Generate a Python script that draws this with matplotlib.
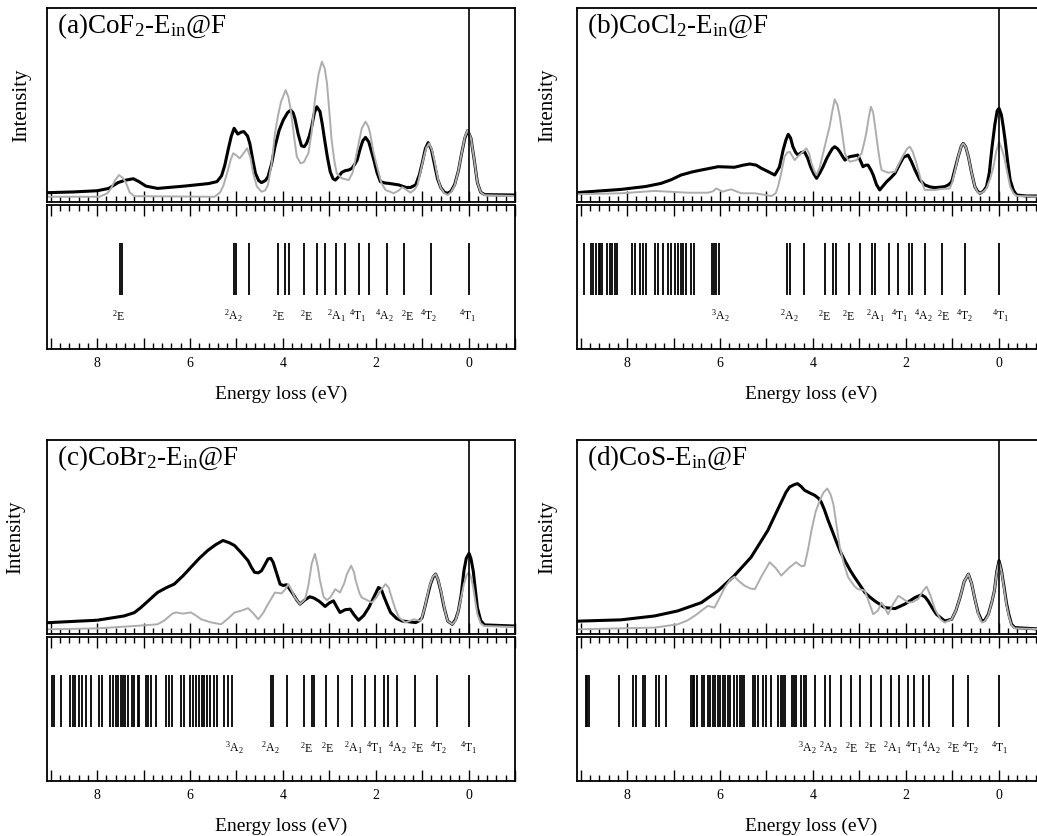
import matplotlib.pyplot as plt
from matplotlib.ticker import MultipleLocator, FuncFormatter

plt.rcParams['font.family'] = 'Liberation Serif'
plt.rcParams['mathtext.fontset'] = 'custom'
plt.rcParams['mathtext.rm'] = 'Liberation Serif'
plt.rcParams['mathtext.it'] = 'Liberation Serif:italic'
plt.rcParams['mathtext.bf'] = 'Liberation Serif:bold'

W, H = 1037, 836
XLIM = (9.08, -1.0)
EXP_COLOR = 'black'
CALC_COLOR = '#adadad'

# ---- (a) CoF2 ----
a_exp_e = [9.08, 8.5, 8.0, 7.75, 7.55, 7.4, 7.22, 7.1, 6.95, 6.7, 6.12, 5.6, 5.42, 5.32, 5.25, 5.18, 5.11, 5.05,
           4.97, 4.90, 4.84, 4.76, 4.71, 4.65, 4.59, 4.52, 4.46, 4.38, 4.32, 4.24, 4.17, 4.08, 3.99, 3.90, 3.83,
           3.78, 3.74, 3.67, 3.60, 3.54, 3.49, 3.43, 3.38, 3.32, 3.27, 3.20, 3.15, 3.10, 3.04, 2.98, 2.92, 2.87,
           2.80, 2.73, 2.65, 2.58, 2.51, 2.45, 2.40, 2.34, 2.28, 2.22, 2.15, 2.09, 2.04, 1.97, 1.90, 1.80, 1.72,
           1.50, 1.35, 1.25, 1.14, 1.06, 1.00, 0.93, 0.87, 0.80, 0.74, 0.67, 0.60, 0.52, 0.45, 0.38, 0.30, 0.22,
           0.15, 0.08, 0.02, -0.05, -0.12, -0.19, -0.26, -0.35, -1.0]
a_exp_i = [0.048, 0.052, 0.058, 0.07, 0.10, 0.112, 0.12, 0.105, 0.082, 0.07, 0.082, 0.095, 0.105, 0.135, 0.19,
           0.268, 0.34, 0.38, 0.35, 0.36, 0.363, 0.34, 0.30, 0.22, 0.148, 0.11, 0.10, 0.11, 0.13, 0.2, 0.285,
           0.37, 0.423, 0.46, 0.474, 0.46, 0.43, 0.35, 0.29, 0.285, 0.302, 0.34, 0.388, 0.46, 0.491, 0.466, 0.40,
           0.32, 0.23, 0.156, 0.12, 0.113, 0.13, 0.153, 0.162, 0.165, 0.174, 0.195, 0.216, 0.27, 0.315, 0.333,
           0.31, 0.26, 0.216, 0.15, 0.105, 0.098, 0.096, 0.088, 0.075, 0.075, 0.088, 0.14, 0.2, 0.275, 0.306,
           0.27, 0.2, 0.12, 0.075, 0.05, 0.045, 0.055, 0.09, 0.16, 0.25, 0.33, 0.368, 0.33, 0.22, 0.10, 0.05,
           0.038, 0.036]
a_calc_e = [9.08, 7.95, 7.78, 7.70, 7.62, 7.53, 7.45, 7.38, 7.30, 7.2, 5.47, 5.35, 5.28, 5.20, 5.12, 5.07, 5.0,
            4.93, 4.85, 4.77, 4.70, 4.64, 4.56, 4.46, 4.38, 4.32, 4.24, 4.17, 4.10, 4.04, 3.94, 3.88, 3.83, 3.76,
            3.70, 3.62, 3.55, 3.45, 3.38, 3.31, 3.23, 3.16, 3.10, 3.05, 3.0, 2.95, 2.89, 2.84, 2.73, 2.58, 2.50,
            2.44, 2.37, 2.30, 2.22, 2.16, 2.12, 2.05, 1.97, 1.88, 1.79, 1.61, 1.50, 1.43, 1.35, 1.25, 1.16, 1.10,
            1.04, 0.98, 0.91, 0.85, 0.79, 0.73, 0.66, 0.60, 0.52, 0.45, 0.38, 0.30, 0.22, 0.15, 0.08, 0.02,
            -0.05, -0.12, -0.19, -0.26, -0.35, -1.0]
a_calc_i = [0.027, 0.027, 0.045, 0.07, 0.11, 0.139, 0.125, 0.10, 0.05, 0.03, 0.027, 0.05, 0.085, 0.15, 0.22,
            0.251, 0.24, 0.225, 0.25, 0.277, 0.23, 0.148, 0.08, 0.053, 0.06, 0.088, 0.20, 0.354, 0.45, 0.517,
            0.577, 0.54, 0.474, 0.34, 0.234, 0.20, 0.205, 0.251, 0.36, 0.526, 0.66, 0.723, 0.69, 0.612, 0.47,
            0.32, 0.21, 0.148, 0.122, 0.113, 0.15, 0.216, 0.30, 0.38, 0.414, 0.39, 0.354, 0.26, 0.182, 0.10,
            0.062, 0.045, 0.06, 0.076, 0.065, 0.048, 0.065, 0.088, 0.15, 0.216, 0.28, 0.302, 0.27, 0.208, 0.12,
            0.074, 0.045, 0.036, 0.05, 0.085, 0.16, 0.25, 0.335, 0.371, 0.33, 0.22, 0.10, 0.05, 0.035, 0.031]
a_sticks = [7.50, 7.47, 5.06, 5.02, 4.74, 4.10, 3.95, 3.87, 3.54, 3.27, 3.10, 2.85, 2.66, 2.37, 2.14, 1.75,
            1.39, 0.82, 0.0]
a_lab_e = [7.54, 5.07, 4.10, 3.49, 2.84, 2.38, 1.82, 1.32, 0.86, 0.02]
a_lab = [r'$^2$E', r'$^2$A$_2$', r'$^2$E', r'$^2$E', r'$^2$A$_1$', r'$^4$T$_1$', r'$^4$A$_2$', r'$^2$E',
         r'$^4$T$_2$', r'$^4$T$_1$']

# ---- (b) CoCl2 ----
b_exp_e = [9.08, 8.99, 8.13, 7.6, 7.27, 7.05, 6.84, 6.60, 6.40, 6.04, 5.69, 5.50, 5.36, 5.22, 5.11, 4.95, 4.82,
           4.72, 4.64, 4.58, 4.53, 4.48, 4.43, 4.37, 4.32, 4.25, 4.18, 4.11, 4.05, 3.98, 3.92, 3.85, 3.78, 3.70,
           3.64, 3.58, 3.53, 3.47, 3.42, 3.36, 3.31, 3.25, 3.20, 3.10, 3.03, 2.97, 2.92, 2.86, 2.81, 2.75, 2.70,
           2.63, 2.56, 2.48, 2.41, 2.32, 2.23, 2.14, 2.05, 1.95, 1.88, 1.80, 1.70, 1.59, 1.48, 1.37, 1.16, 1.07,
           1.01, 0.95, 0.87, 0.80, 0.76, 0.71, 0.65, 0.58, 0.51, 0.45, 0.40, 0.33, 0.26, 0.20, 0.14, 0.08, 0.03,
           -0.01, -0.06, -0.10, -0.14, -0.20, -0.25, -0.32, -0.39, -0.6, -1.0]
b_exp_i = [0.048, 0.05, 0.065, 0.08, 0.096, 0.115, 0.139, 0.155, 0.165, 0.182, 0.179, 0.19, 0.196, 0.19, 0.174,
           0.155, 0.139, 0.18, 0.268, 0.32, 0.349, 0.33, 0.285, 0.255, 0.242, 0.255, 0.259, 0.225, 0.182, 0.145,
           0.122, 0.15, 0.182, 0.225, 0.251, 0.275, 0.285, 0.275, 0.259, 0.235, 0.216, 0.228, 0.234, 0.238,
           0.242, 0.21, 0.182, 0.19, 0.19, 0.165, 0.139, 0.09, 0.062, 0.085, 0.105, 0.125, 0.148, 0.19, 0.23,
           0.242, 0.21, 0.165, 0.115, 0.088, 0.078, 0.074, 0.079, 0.09, 0.105, 0.16, 0.234, 0.29, 0.302, 0.285,
           0.234, 0.15, 0.079, 0.055, 0.045, 0.055, 0.079, 0.15, 0.285, 0.40, 0.47, 0.483, 0.45, 0.39, 0.32,
           0.20, 0.113, 0.06, 0.036, 0.031, 0.031]
b_calc_e = [9.08, 8.13, 7.41, 6.69, 6.26, 6.15, 6.08, 6.0, 5.94, 5.85, 5.76, 5.65, 5.54, 5.25, 4.89, 4.80, 4.75,
            4.68, 4.61, 4.55, 4.50, 4.45, 4.39, 4.32, 4.25, 4.14, 4.08, 4.03, 3.97, 3.92, 3.85, 3.78, 3.70, 3.64,
            3.58, 3.53, 3.47, 3.42, 3.36, 3.31, 3.25, 3.20, 3.06, 2.95, 2.90, 2.85, 2.80, 2.75, 2.70, 2.65, 2.60,
            2.55, 2.52, 2.38, 2.23, 2.14, 2.05, 1.97, 1.91, 1.85, 1.77, 1.68, 1.59, 1.37, 1.23, 1.05, 1.00, 0.94,
            0.87, 0.80, 0.76, 0.71, 0.65, 0.58, 0.51, 0.45, 0.40, 0.33, 0.26, 0.18, 0.11, 0.05, -0.01, -0.06,
            -0.12, -0.18, -0.25, -0.32, -0.39, -1.0]
b_calc_i = [0.04, 0.045, 0.057, 0.048, 0.048, 0.055, 0.07, 0.06, 0.053, 0.06, 0.065, 0.055, 0.045, 0.045, 0.031,
            0.045, 0.079, 0.15, 0.234, 0.255, 0.259, 0.24, 0.216, 0.235, 0.251, 0.277, 0.25, 0.20, 0.16, 0.139,
            0.18, 0.251, 0.33, 0.388, 0.47, 0.529, 0.50, 0.44, 0.34, 0.251, 0.22, 0.208, 0.216, 0.251, 0.30,
            0.354, 0.43, 0.491, 0.46, 0.371, 0.28, 0.2, 0.165, 0.151, 0.156, 0.2, 0.242, 0.275, 0.285, 0.26, 0.20,
            0.12, 0.062, 0.062, 0.067, 0.07, 0.10, 0.16, 0.234, 0.29, 0.302, 0.285, 0.234, 0.15, 0.079, 0.05,
            0.045, 0.052, 0.07, 0.12, 0.182, 0.26, 0.31, 0.28, 0.234, 0.16, 0.079, 0.045, 0.031, 0.027]
b_sticks = [8.94, 8.78, 8.73, 8.67, 8.61, 8.58, 8.54, 8.44, 8.38, 8.32, 8.27, 8.22, 7.89, 7.84, 7.73, 7.66,
            7.59, 7.39, 7.34, 7.22, 7.12, 7.05, 6.98, 6.91, 6.84, 6.79, 6.73, 6.62, 6.57, 6.17, 6.12, 6.08,
            6.02, 4.55, 4.50, 4.19, 3.74, 3.56, 3.51, 3.22, 2.98, 2.72, 2.66, 2.37, 2.16, 1.93, 1.87, 1.58,
            1.22, 0.72, 0.0]
b_lab_e = [6.0, 4.5, 3.74, 3.24, 2.65, 2.12, 1.62, 1.19, 0.72, -0.04]
b_lab = [r'$^3$A$_2$', r'$^2$A$_2$', r'$^2$E', r'$^2$E', r'$^2$A$_1$', r'$^4$T$_1$', r'$^4$A$_2$', r'$^2$E',
         r'$^4$T$_2$', r'$^4$T$_1$']

# ---- (c) CoBr2 ----
c_exp_e = [9.08, 9.01, 8.0, 7.42, 7.2, 7.06, 6.88, 6.70, 6.50, 6.34, 6.15, 5.98, 5.80, 5.62, 5.45, 5.29, 5.15,
           5.04, 4.90, 4.75, 4.68, 4.61, 4.53, 4.46, 4.38, 4.32, 4.26, 4.21, 4.13, 4.06, 3.99, 3.92, 3.85, 3.78,
           3.70, 3.63, 3.53, 3.42, 3.33, 3.23, 3.15, 3.09, 3.0, 2.91, 2.84, 2.77, 2.66, 2.55, 2.47, 2.37, 2.26,
           2.15, 2.04, 1.94, 1.88, 1.83, 1.75, 1.68, 1.55, 1.43, 1.14, 1.05, 1.00, 0.93, 0.86, 0.82, 0.76, 0.71,
           0.66, 0.60, 0.53, 0.45, 0.35, 0.28, 0.22, 0.16, 0.10, 0.05, -0.01, -0.05, -0.10, -0.15, -0.19, -0.26,
           -0.34, -1.0]
c_exp_i = [0.058, 0.059, 0.071, 0.093, 0.11, 0.136, 0.175, 0.214, 0.24, 0.257, 0.30, 0.344, 0.39, 0.43, 0.46,
           0.482, 0.47, 0.456, 0.42, 0.378, 0.345, 0.318, 0.315, 0.326, 0.36, 0.387, 0.39, 0.37, 0.31, 0.257,
           0.25, 0.254, 0.23, 0.206, 0.175, 0.154, 0.175, 0.192, 0.185, 0.171, 0.155, 0.142, 0.16, 0.171, 0.14,
           0.111, 0.125, 0.128, 0.1, 0.071, 0.095, 0.136, 0.19, 0.24, 0.23, 0.197, 0.15, 0.111, 0.08, 0.067,
           0.059, 0.07, 0.085, 0.15, 0.22, 0.257, 0.295, 0.309, 0.28, 0.223, 0.14, 0.067, 0.05, 0.075, 0.119,
           0.2, 0.326, 0.39, 0.416, 0.39, 0.326, 0.22, 0.136, 0.07, 0.047, 0.041]
c_calc_e = [9.08, 8.0, 7.21, 6.70, 6.55, 6.48, 6.38, 6.30, 6.16, 5.98, 5.87, 5.76, 5.55, 5.33, 5.18, 5.04, 4.90,
            4.75, 4.65, 4.53, 4.42, 4.32, 4.17, 4.03, 3.95, 3.88, 3.80, 3.74, 3.63, 3.52, 3.45, 3.38, 3.31, 3.25,
            3.20, 3.12, 3.05, 2.98, 2.87, 2.77, 2.68, 2.62, 2.53, 2.47, 2.43, 2.35, 2.30, 2.08, 1.98, 1.90, 1.79,
            1.72, 1.68, 1.58, 1.50, 1.36, 1.18, 1.03, 0.95, 0.85, 0.77, 0.71, 0.65, 0.58, 0.50, 0.45, 0.35, 0.28,
            0.22, 0.15, 0.10, 0.04, -0.01, -0.05, -0.10, -0.15, -0.19, -0.26, -0.34, -1.0]
c_calc_i = [0.024, 0.029, 0.041, 0.05, 0.07, 0.085, 0.105, 0.111, 0.105, 0.111, 0.095, 0.076, 0.06, 0.05, 0.08,
            0.111, 0.12, 0.133, 0.11, 0.076, 0.11, 0.154, 0.214, 0.209, 0.23, 0.257, 0.22, 0.188, 0.154, 0.18,
            0.25, 0.361, 0.413, 0.35, 0.275, 0.19, 0.175, 0.188, 0.231, 0.214, 0.26, 0.309, 0.352, 0.32, 0.275,
            0.21, 0.188, 0.162, 0.19, 0.223, 0.257, 0.24, 0.206, 0.13, 0.085, 0.059, 0.076, 0.067, 0.13, 0.24,
            0.295, 0.309, 0.275, 0.206, 0.11, 0.067, 0.05, 0.07, 0.119, 0.2, 0.257, 0.305, 0.318, 0.295, 0.24,
            0.16, 0.102, 0.055, 0.041, 0.036]
c_sticks = [8.97, 8.94, 8.77, 8.58, 8.52, 8.47, 8.40, 8.32, 8.23, 8.14, 7.95, 7.89, 7.73, 7.65, 7.60, 7.55,
            7.49, 7.44, 7.39, 7.33, 7.26, 7.21, 7.13, 7.10, 6.95, 6.90, 6.83, 6.74, 6.52, 6.46, 6.38, 6.19,
            6.14, 5.99, 5.94, 5.87, 5.81, 5.75, 5.69, 5.63, 5.56, 5.49, 5.42, 5.26, 5.18, 5.09, 4.26, 4.21,
            3.91, 3.54, 3.37, 3.34, 3.07, 2.82, 2.51, 2.24, 2.01, 1.83, 1.74, 1.54, 1.16, 0.67, 0.0]
c_lab_e = [5.04, 4.28, 3.49, 3.03, 2.48, 2.01, 1.54, 1.10, 0.64, -0.01]
c_lab = b_lab

# ---- (d) CoS ----
d_exp_e = [9.08, 8.96, 8.13, 7.41, 6.91, 6.40, 6.04, 5.69, 5.33, 4.97, 4.80, 4.68, 4.58, 4.50, 4.40, 4.33, 4.25,
           4.18, 4.05, 3.96, 3.88, 3.82, 3.75, 3.67, 3.58, 3.49, 3.40, 3.31, 3.20, 3.10, 2.98, 2.88, 2.77, 2.67,
           2.45, 2.23, 2.02, 1.80, 1.66, 1.58, 1.52, 1.43, 1.34, 1.16, 1.01, 0.92, 0.83, 0.74, 0.65, 0.58, 0.51,
           0.44, 0.36, 0.30, 0.22, 0.14, 0.09, 0.04, -0.01, -0.06, -0.12, -0.17, -0.22, -0.28, -0.35, -1.0]
d_exp_i = [0.066, 0.067, 0.073, 0.093, 0.119, 0.162, 0.223, 0.301, 0.396, 0.534, 0.62, 0.68, 0.73, 0.758, 0.77,
           0.775, 0.76, 0.741, 0.725, 0.715, 0.70, 0.68, 0.64, 0.585, 0.53, 0.473, 0.42, 0.378, 0.33, 0.292,
           0.25, 0.214, 0.19, 0.171, 0.136, 0.131, 0.154, 0.188, 0.202, 0.19, 0.171, 0.135, 0.102, 0.067, 0.076,
           0.12, 0.188, 0.27, 0.309, 0.26, 0.18, 0.11, 0.067, 0.07, 0.102, 0.17, 0.223, 0.32, 0.378, 0.33, 0.24,
           0.16, 0.102, 0.05, 0.033, 0.024]
d_calc_e = [9.08, 7.41, 6.91, 6.70, 6.55, 6.40, 6.26, 6.12, 6.0, 5.90, 5.78, 5.69, 5.58, 5.47, 5.35, 5.25, 5.10,
            4.93, 4.80, 4.68, 4.52, 4.36, 4.25, 4.18, 4.10, 4.03, 3.94, 3.85, 3.77, 3.69, 3.62, 3.56, 3.49, 3.42,
            3.33, 3.24, 3.10, 3.03, 2.95, 2.88, 2.80, 2.70, 2.60, 2.52, 2.45, 2.38, 2.28, 2.16, 2.05, 1.95, 1.85,
            1.73, 1.62, 1.55, 1.47, 1.37, 1.25, 1.16, 1.01, 0.92, 0.83, 0.74, 0.65, 0.58, 0.51, 0.44, 0.36, 0.30,
            0.22, 0.14, 0.09, 0.04, -0.01, -0.06, -0.12, -0.17, -0.22, -0.28, -0.35, -1.0]
d_calc_i = [0.024, 0.033, 0.05, 0.07, 0.093, 0.12, 0.145, 0.136, 0.19, 0.24, 0.28, 0.295, 0.27, 0.249, 0.235,
            0.231, 0.30, 0.37, 0.34, 0.301, 0.34, 0.37, 0.35, 0.352, 0.44, 0.534, 0.63, 0.689, 0.73, 0.75, 0.72,
            0.672, 0.56, 0.447, 0.36, 0.292, 0.245, 0.231, 0.228, 0.223, 0.17, 0.102, 0.12, 0.162, 0.135, 0.102,
            0.15, 0.197, 0.18, 0.162, 0.165, 0.18, 0.225, 0.244, 0.2, 0.128, 0.075, 0.059, 0.076, 0.12, 0.188,
            0.27, 0.309, 0.26, 0.18, 0.105, 0.059, 0.065, 0.098, 0.17, 0.223, 0.315, 0.37, 0.325, 0.231, 0.15,
            0.093, 0.045, 0.029, 0.024]
d_sticks = [8.89, 8.86, 8.83, 8.18, 7.88, 7.82, 7.66, 7.61, 7.37, 7.32, 7.16, 6.62, 6.58, 6.55, 6.49, 6.39,
            6.35, 6.25, 6.21, 6.16, 6.11, 6.04, 5.99, 5.94, 5.89, 5.83, 5.78, 5.69, 5.63, 5.58, 5.53, 5.48,
            5.30, 5.25, 5.19, 5.08, 5.02, 4.90, 4.75, 4.69, 4.64, 4.59, 4.46, 4.41, 4.36, 4.25, 4.20, 4.14,
            3.96, 3.74, 3.64, 3.40, 3.17, 2.99, 2.75, 2.54, 2.32, 2.15, 1.96, 1.82, 1.62, 1.50, 0.98, 0.65, 0.0]
d_lab_e = [4.12, 3.66, 3.17, 2.75, 2.29, 1.82, 1.44, 0.97, 0.60, -0.03]
d_lab = b_lab

titles = [r'(a)CoF$_2$-E$_{\mathrm{in}}$@F', r'(b)CoCl$_2$-E$_{\mathrm{in}}$@F',
          r'(c)CoBr$_2$-E$_{\mathrm{in}}$@F', r'(d)CoS-E$_{\mathrm{in}}$@F']


def box(left, top, right, bottom):
    # pixel edges -> figure fraction [x, y, w, h]
    return [left / W, 1 - bottom / H, (right - left) / W, (bottom - top) / H]


def style_x(ax):
    ax.set_xlim(*XLIM)
    ax.xaxis.set_major_locator(MultipleLocator(1))
    ax.xaxis.set_minor_locator(MultipleLocator(0.2))
    ax.set_yticks([])
    ax.set_ylim(0, 1)
    for s in ax.spines.values():
        s.set_linewidth(1.3)


def panel(left, top, title, exp_e, exp_i, calc_e, calc_i, sticks, lab_e, lab, ylab_x):
    right = left + 468
    ax = plt.gcf().add_axes(box(left, top, right, top + 194))
    style_x(ax)
    ax.tick_params(axis='x', which='both', direction='in', bottom=True, top=False, labelbottom=False, width=1)
    ax.tick_params(axis='x', which='major', length=8)
    ax.tick_params(axis='x', which='minor', length=4)
    ax.plot(exp_e, exp_i, color=EXP_COLOR, lw=2.2, solid_joinstyle='round')
    ax.plot(calc_e, calc_i, color=CALC_COLOR, lw=1.4)
    ax.axvline(0, color='black', lw=1.2)
    ax.text(0.022, 0.905, title, transform=ax.transAxes, fontsize=19.5, ha='left', va='center')
    ax.set_ylabel('Intensity', fontsize=15)
    ax.yaxis.set_label_coords(ylab_x, 0.5)

    sx = plt.gcf().add_axes(box(left, top + 197, right, top + 341))
    style_x(sx)
    sx.tick_params(axis='x', which='both', direction='in', bottom=True, top=True, width=1, labelsize=10, pad=6)
    sx.tick_params(axis='x', which='major', length=8)
    sx.tick_params(axis='x', which='minor', length=4)
    sx.xaxis.set_major_formatter(FuncFormatter(
        lambda v, _: f'{v:.0f}' if round(v) % 2 == 0 and 0 <= v <= 8 else ''))
    sx.vlines(sticks, 0.375, 0.735, color='black', lw=1.3)
    for e, t in zip(lab_e, lab):
        sx.text(e, 0.23, t, fontsize=8.5, ha='center', va='center')
    sx.set_xlabel('Energy loss (eV)', fontsize=14, labelpad=11)


fig = plt.figure(figsize=(W / 100, H / 100), dpi=100)
panel(47, 8, titles[0], a_exp_e, a_exp_i, a_calc_e, a_calc_i, a_sticks, a_lab_e, a_lab, -0.033)
panel(577, 8, titles[1], b_exp_e, b_exp_i, b_calc_e, b_calc_i, b_sticks, b_lab_e, b_lab, -0.043)
panel(47, 440, titles[2], c_exp_e, c_exp_i, c_calc_e, c_calc_i, c_sticks, c_lab_e, c_lab, -0.047)
panel(577, 440, titles[3], d_exp_e, d_exp_i, d_calc_e, d_calc_i, d_sticks, d_lab_e, d_lab, -0.043)

fig.savefig('out.png', dpi=100)
